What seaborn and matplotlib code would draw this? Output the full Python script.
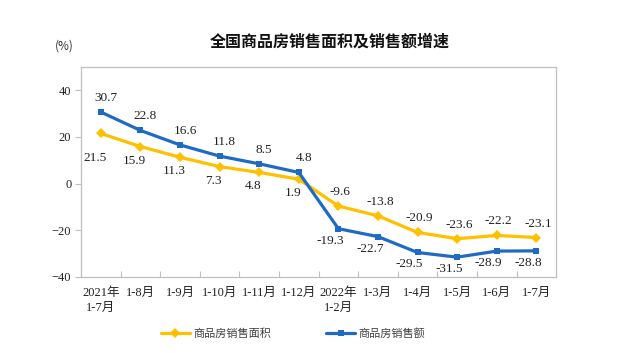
import matplotlib
matplotlib.use("Agg")
import matplotlib.pyplot as plt
import pandas as pd
import seaborn as sns

# data
months = ["2021年\n1-7月", "1-8月", "1-9月", "1-10月", "1-11月", "1-12月",
          "2022年\n1-2月", "1-3月", "1-4月", "1-5月", "1-6月", "1-7月"]
area_growth = [21.5, 15.9, 11.3, 7.3, 4.8, 1.9, -9.6, -13.8, -20.9, -23.6, -22.2, -23.1]
sales_growth = [30.7, 22.8, 16.6, 11.8, 8.5, 4.8, -19.3, -22.7, -29.5, -31.5, -28.9, -28.8]
series_names = ["商品房销售面积", "商品房销售额"]

sns.set_theme(style="white")
plt.rcParams["font.family"] = ["Liberation Serif", "Noto Sans CJK SC", "DejaVu Sans"]

YELLOW = "#FFC000"
BLUE = "#1F6BC4"

pos = list(range(len(months)))
df = pd.DataFrame({
    "pos": pos * 2,
    "value": area_growth + sales_growth,
    "series": [series_names[0]] * len(pos) + [series_names[1]] * len(pos),
})

fig = plt.figure(figsize=(6.26, 3.53), dpi=100)
ax = fig.add_axes([0.1294, 0.2153, 0.759, 0.595])

sns.lineplot(data=df, x="pos", y="value", hue="series", style="series",
             palette=[YELLOW, BLUE], markers=["D", "s"], dashes=False,
             linewidth=2.3, markersize=5, markeredgewidth=0, ax=ax)

# data labels: before 2022 blue above / yellow below, afterwards swapped
for i, (a, s) in enumerate(zip(area_growth, sales_growth)):
    early = i < 6
    ya = 14 if early else -14
    xa = -6 if early else 2
    if i == 0:
        ya = 25
    ys = -14 if early else 12
    xs = 5 if early else -8
    ax.annotate(f"{a}", (i, a), xytext=(xa, -ya), textcoords="offset pixels",
                ha="center", va="center", fontsize=9.5, color="#222222")
    ax.annotate(f"{s}", (i, s), xytext=(xs, -ys), textcoords="offset pixels",
                ha="center", va="center", fontsize=9.5, color="#222222")

ax.set_xlim(-0.5, len(months) - 0.5)
ax.set_ylim(-40, 50)
ax.set_yticks([-40, -20, 0, 20, 40])
ax.set_xticks(pos)
ax.set_xticklabels(months, fontsize=9, color="#222222", linespacing=1.4)
ax.set_xticks([p + 0.5 for p in pos[:-1]], minor=True)
ax.tick_params(axis="x", which="major", length=0, pad=7)
ax.tick_params(axis="x", which="minor", direction="in", length=4,
               color="#BFBFBF", width=0.8, bottom=True)
ax.tick_params(axis="y", direction="out", length=4, color="#BFBFBF",
               width=0.8, left=True, labelsize=9, labelcolor="#222222", pad=3)
for sp in ax.spines.values():
    sp.set_visible(True)
    sp.set_color("#BFBFBF")
    sp.set_linewidth(0.9)
ax.set_xlabel("")
ax.set_ylabel("")
ax.grid(False)

ax.legend(loc="center", bbox_to_anchor=(0.468, 0.054),
          bbox_transform=fig.transFigure, ncol=2, frameon=False,
          prop={"family": ["Noto Sans CJK SC"], "size": 8},
          handlelength=2.6, handletextpad=0.3, columnspacing=5,
          labelcolor="#404040")

fig.text(0.527, 0.881, "全国商品房销售面积及销售额增速", ha="center", va="center",
         fontsize=11.5, fontweight="bold", family=["Noto Sans CJK SC"], color="#111111")
fig.text(0.088, 0.87, "(%)", ha="left", va="center", fontsize=8.5,
         family=["Noto Sans CJK SC"], color="#333333")

fig.savefig("out.png", dpi=100, facecolor="white")
